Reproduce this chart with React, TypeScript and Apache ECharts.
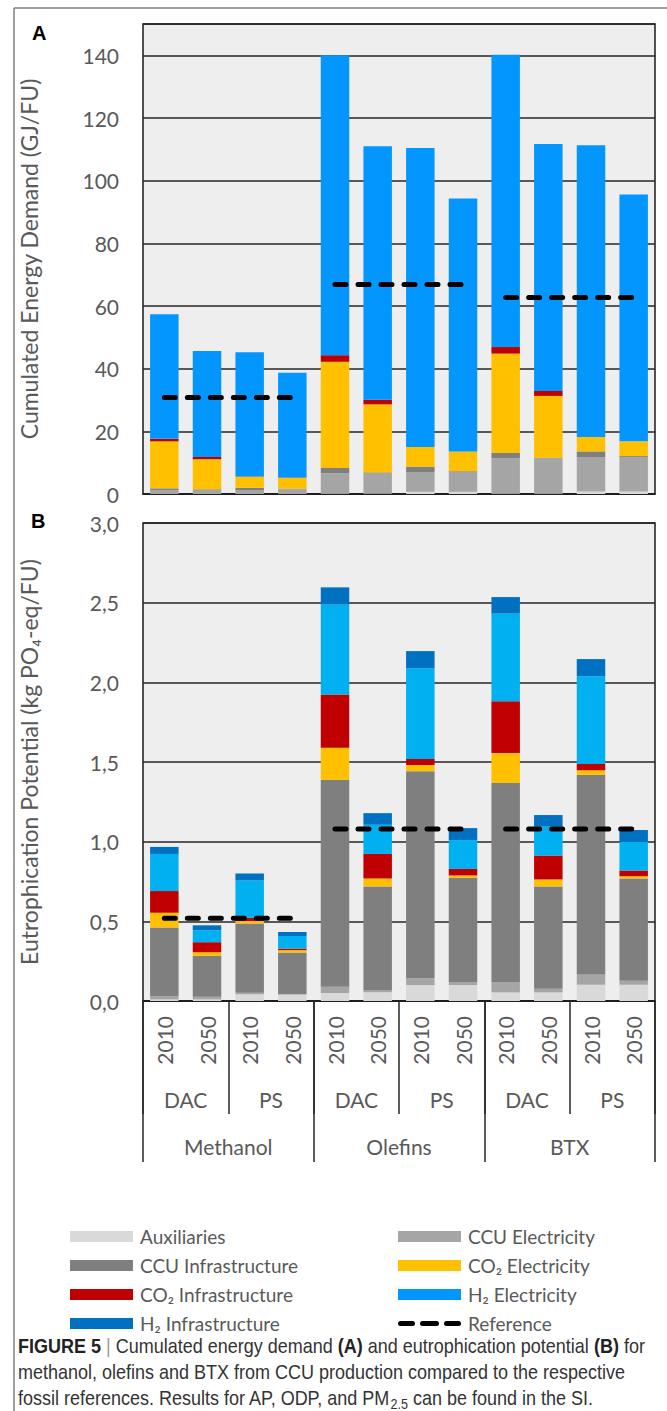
import React, { useEffect, useRef } from 'react';
import * as echarts from 'echarts';

// ---------- categories ----------
const years = ['2010', '2050', '2010', '2050', '2010', '2050', '2010', '2050', '2010', '2050', '2010', '2050'];
const routes = ['DAC', 'PS', 'DAC', 'PS', 'DAC', 'PS'];
const products = ['Methanol', 'Olefins', 'BTX'];

// ---------- series names ----------
const nameAux = 'Auxiliaries';
const nameCcuElec = 'CCU Electricity';
const nameCcuInfra = 'CCU Infrastructure';
const nameCo2Elec = 'CO₂ Electricity';
const nameCo2Infra = 'CO₂ Infrastructure';
const nameH2Elec = 'H₂ Electricity';
const nameH2Infra = 'H₂ Infrastructure';
const nameRef = 'Reference';

// ---------- Panel A: Cumulated energy demand (GJ/FU) ----------
const cedAux = [0, 0, 0, 0, 0.2, 0.1, 0.7, 0.7, 0.2, 0.2, 0.8, 0.8];
const cedCcuElec = [1.3, 1.3, 1.3, 1.5, 6.4, 6.6, 6.3, 6.4, 11.2, 11.2, 11.0, 11.0];
const cedCcuInfra = [0.5, 0.2, 0.7, 0.2, 1.7, 0.2, 1.7, 0.2, 1.7, 0.2, 1.8, 0.3];
const cedCo2Elec = [15.0, 9.6, 3.5, 3.5, 33.9, 21.7, 6.3, 6.3, 31.7, 19.7, 4.6, 4.7];
const cedCo2Infra = [0.8, 0.7, 0.1, 0.1, 2.1, 1.5, 0, 0, 2.1, 1.6, 0, 0];
const cedH2Elec = [39.8, 33.8, 39.6, 33.4, 95.7, 80.9, 95.4, 80.7, 93.3, 78.8, 93.1, 78.8];
const cedH2Infra = [0, 0, 0, 0, 0, 0, 0, 0, 0, 0, 0, 0];
const cedReference = [30.8, 66.9, 62.7]; // Methanol, Olefins, BTX
const cedTicks = { min: 0, max: 150, interval: 20 };

// ---------- Panel B: Eutrophication potential (kg PO4-eq/FU) ----------
const epAux = [0.01, 0.01, 0.042, 0.04, 0.05, 0.055, 0.1, 0.1, 0.054, 0.054, 0.102, 0.102];
const epCcuElec = [0.02, 0.017, 0.01, 0.004, 0.04, 0.014, 0.044, 0.019, 0.065, 0.023, 0.065, 0.025];
const epCcuInfra = [0.431, 0.256, 0.434, 0.26, 1.298, 0.65, 1.298, 0.654, 1.25, 0.642, 1.252, 0.642];
const epCo2Elec = [0.093, 0.023, 0.016, 0.015, 0.202, 0.05, 0.039, 0.015, 0.187, 0.044, 0.029, 0.014];
const epCo2Infra = [0.136, 0.063, 0.021, 0.01, 0.333, 0.154, 0.038, 0.041, 0.325, 0.15, 0.04, 0.036];
const epH2Elec = [0.233, 0.075, 0.233, 0.079, 0.565, 0.183, 0.569, 0.181, 0.55, 0.181, 0.55, 0.179];
const epH2Infra = [0.044, 0.031, 0.044, 0.025, 0.108, 0.073, 0.108, 0.075, 0.104, 0.073, 0.108, 0.075];
const epReference = [0.52, 1.08, 1.08];
const epTicks = { min: 0, max: 3, interval: 0.5 };

// ---------- colours ----------
const cAux = '#D9D9D9';
const cCcuElec = '#A5A5A5';
const cCcuInfra = '#7F7F7F';
const cCo2Elec = '#FFC000';
const cCo2Infra = '#C00000';
const cH2ElecA = '#0496FF';
const cH2ElecB = '#00B0F0';
const cH2Infra = '#0070C0';

const FONT = 'Lato, "Open Sans", sans-serif';
const CAP_FONT = '"Liberation Sans", Arial, sans-serif';
const TXT = '#595959';

function buildOption() {
  const stackDefs = (panel: number) => {
    const d = panel === 0
      ? [cedAux, cedCcuElec, cedCcuInfra, cedCo2Elec, cedCo2Infra, cedH2Elec, cedH2Infra]
      : [epAux, epCcuElec, epCcuInfra, epCo2Elec, epCo2Infra, epH2Elec, epH2Infra];
    const names = [nameAux, nameCcuElec, nameCcuInfra, nameCo2Elec, nameCo2Infra, nameH2Elec, nameH2Infra];
    const colors = [cAux, cCcuElec, cCcuInfra, cCo2Elec, cCo2Infra, panel === 0 ? cH2ElecA : cH2ElecB, cH2Infra];
    return names.map((n, i) => ({
      type: 'bar',
      name: n,
      stack: 'p' + panel,
      xAxisIndex: panel,
      yAxisIndex: panel,
      barWidth: 28.5,
      itemStyle: { color: colors[i] },
      data: d[i],
      z: 2,
    }));
  };
  const refLines = (panel: number) => {
    const vals = panel === 0 ? cedReference : epReference;
    return vals.map((v, p) => ({
      type: 'line',
      name: nameRef,
      xAxisIndex: panel,
      yAxisIndex: panel,
      symbol: 'none',
      z: 5,
      itemStyle: { color: '#000' },
      lineStyle: { color: '#000', width: 5, type: [11, 12], cap: 'round' },
      data: years.map((_, i) => (i >= p * 4 && i < p * 4 + 4 ? v : '-')),
    }));
  };

  const gridStyle = {
    show: true,
    backgroundColor: '#EEEEEE',
    borderColor: '#1A1A1A',
    borderWidth: 1.5,
  };

  const yCommon = {
    type: 'value',
    axisLine: { show: false },
    axisTick: { show: false },
    splitLine: { show: true, lineStyle: { color: '#262626', width: 1.5 } },
    nameLocation: 'middle',
    nameGap: 103,
    nameTextStyle: { fontFamily: FONT, fontSize: 23, color: TXT },
  };

  const legendText = { fontFamily: FONT, fontSize: 19, color: TXT, lineHeight: 19, padding: [0, 0, 0, 2] };
  const legendTop = 1222;

  return {
    animation: false,
    textStyle: { fontFamily: FONT },
    grid: [
      { left: 143, top: 24, width: 512, height: 470, ...gridStyle },
      { left: 143, top: 523, width: 512, height: 478, ...gridStyle },
    ],
    xAxis: [
      {
        type: 'category', gridIndex: 0, data: years, position: 'bottom',
        axisLabel: { show: false }, axisTick: { show: false },
        axisLine: { show: true, lineStyle: { color: '#1A1A1A', width: 1.5 } },
      },
      {
        type: 'category', gridIndex: 1, data: years, position: 'bottom',
        axisTick: { show: false },
        axisLine: { show: true, lineStyle: { color: '#1A1A1A', width: 1.5 } },
        axisLabel: { interval: 0, rotate: 90, margin: 15, fontSize: 21, color: TXT, fontFamily: FONT },
      },
      {
        type: 'category', gridIndex: 1, data: routes, position: 'bottom',
        axisLine: { show: false },
        axisTick: { show: true, interval: 0, length: 113, lineStyle: { color: '#262626', width: 1.5 } },
        axisLabel: { interval: 0, margin: 88, fontSize: 21, color: TXT, fontFamily: FONT },
      },
      {
        type: 'category', gridIndex: 1, data: products, position: 'bottom',
        axisLine: { show: false },
        axisTick: { show: true, interval: 0, length: 161, lineStyle: { color: '#262626', width: 1.5 } },
        axisLabel: { interval: 0, margin: 135, fontSize: 21, color: TXT, fontFamily: FONT },
      },
    ],
    yAxis: [
      {
        ...yCommon, gridIndex: 0, ...cedTicks,
        name: 'Cumulated Energy Demand (GJ/FU)',
        axisLabel: { margin: 24, fontSize: 21, color: TXT, fontFamily: FONT, showMaxLabel: false },
      },
      {
        ...yCommon, gridIndex: 1, ...epTicks,
        name: 'Eutrophication Potential (kg PO₄-eq/FU)',
        axisLabel: {
          margin: 24, fontSize: 21, color: TXT, fontFamily: FONT,
          formatter: (v: number) => v.toFixed(1).replace('.', ','),
        },
      },
    ],
    legend: [
      {
        orient: 'vertical', left: 65, top: legendTop, itemWidth: 63, itemHeight: 11, itemGap: 10,
        selectedMode: false, textStyle: legendText,
        data: [nameAux, nameCcuInfra, nameCo2Infra, nameH2Infra].map((n) => ({ name: n, icon: 'rect' })),
      },
      {
        orient: 'vertical', left: 393, top: legendTop, itemWidth: 63, itemHeight: 11, itemGap: 10,
        selectedMode: false, textStyle: legendText,
        data: [
          { name: nameCcuElec, icon: 'rect' },
          { name: nameCo2Elec, icon: 'rect' },
          { name: nameH2Elec, icon: 'rect' },
          {
            name: nameRef,
            icon: 'path://M2.5,0H14.5A2.5,2.5,0,0,1,14.5,5H2.5A2.5,2.5,0,0,1,2.5,0Z M24.5,0H38.5A2.5,2.5,0,0,1,38.5,5H24.5A2.5,2.5,0,0,1,24.5,0Z M48.5,0H60.5A2.5,2.5,0,0,1,60.5,5H48.5A2.5,2.5,0,0,1,48.5,0Z',
            itemStyle: { color: '#000' },
          },
        ],
      },
    ],
    graphic: [
      { type: 'line', shape: { x1: 14, y1: 8, x2: 667, y2: 8 }, style: { stroke: '#7F7F7F', lineWidth: 1.5 } },
      { type: 'line', shape: { x1: 14, y1: 8, x2: 14, y2: 1411 }, style: { stroke: '#7F7F7F', lineWidth: 1.5 } },
      {
        type: 'text', x: 32, y: 33,
        style: { text: 'A', font: 'bold 20px "Liberation Sans", Arial, sans-serif', fill: '#000', verticalAlign: 'middle' },
      },
      {
        type: 'text', x: 31, y: 521,
        style: { text: 'B', font: 'bold 20px "Liberation Sans", Arial, sans-serif', fill: '#000', verticalAlign: 'middle' },
      },
      {
        type: 'text', x: 18, y: 1346, scaleX: 0.9,
        style: {
          text: '{b|FIGURE 5} {g||} Cumulated energy demand {b|(A)} and eutrophication potential {b|(B)} for',
          font: '20px ' + CAP_FONT,
          fill: '#333', verticalAlign: 'middle',
          rich: {
            b: { fontWeight: 'bold', fontFamily: CAP_FONT, fontSize: 20, fill: '#222' },
            g: { fill: '#999', fontFamily: CAP_FONT, fontSize: 20 },
          },
        },
      },
      {
        type: 'text', x: 18, y: 1372, scaleX: 0.9,
        style: {
          text: 'methanol, olefins and BTX from CCU production compared to the respective',
          font: '20px ' + CAP_FONT,
          fill: '#333', verticalAlign: 'middle',
        },
      },
      {
        type: 'text', x: 18, y: 1398, scaleX: 0.9,
        style: {
          text: 'fossil references. Results for AP, ODP, and PM{s|2.5} can be found in the SI.',
          font: '20px ' + CAP_FONT,
          fill: '#333', verticalAlign: 'middle',
          rich: {
            s: { fontSize: 14, fontFamily: CAP_FONT, verticalAlign: 'bottom', lineHeight: 26, fill: '#333' },
          },
        },
      },
    ],
    series: [...stackDefs(0), ...refLines(0), ...stackDefs(1), ...refLines(1)],
  };
}

export default function App() {
  const ref = useRef<HTMLDivElement>(null);
  useEffect(() => {
    document.body.style.margin = '0';
    const chart = echarts.init(ref.current as HTMLDivElement, null, { renderer: 'svg' });
    chart.setOption(buildOption() as any);
    return () => chart.dispose();
  }, []);
  return <div ref={ref} style={{ width: 667, height: 1411 }} />;
}
